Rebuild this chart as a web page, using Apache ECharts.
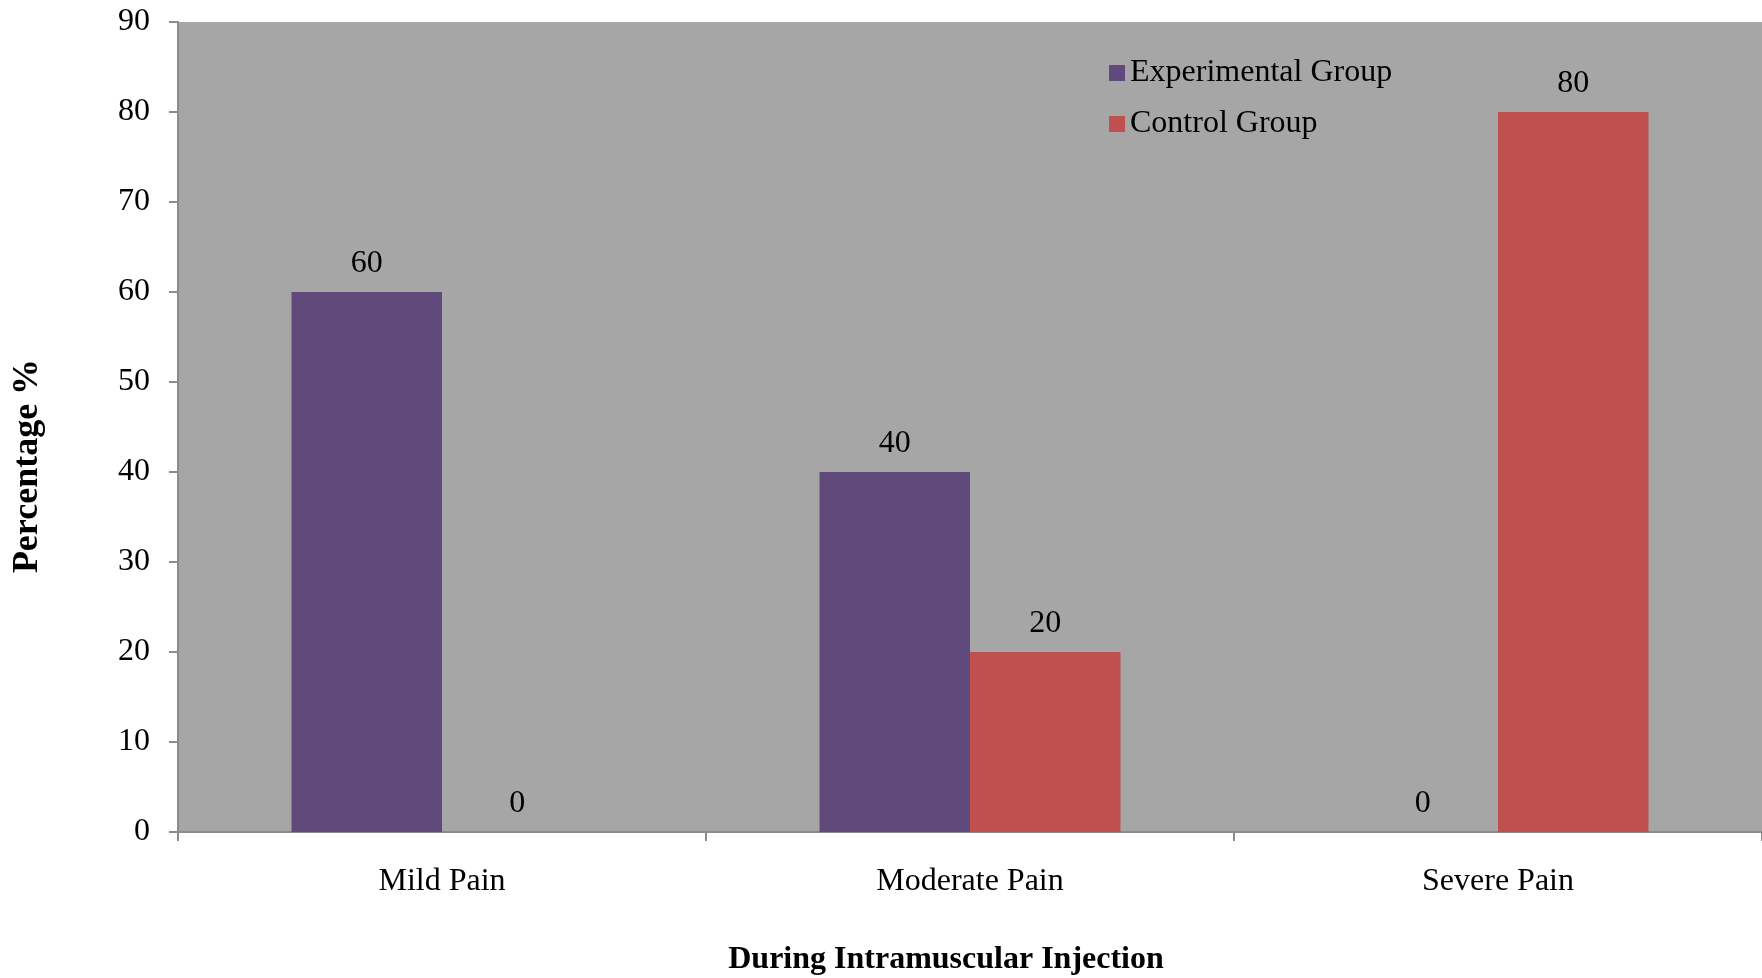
<!DOCTYPE html>
<html>
<head>
<meta charset="utf-8">
<style>
  html, body { margin: 0; padding: 0; background: #ffffff; }
  #chart { width: 1762px; height: 978px; }
</style>
<script src="https://cdn.jsdelivr.net/npm/echarts@6/dist/echarts.min.js"></script>
</head>
<body>
<div id="chart"></div>
<script>
// Pain levels during intramuscular injection (percent of each group)
const categories = ['Mild Pain', 'Moderate Pain', 'Severe Pain'];
const experimentalGroup = [60, 40, 0];
const controlGroup = [0, 20, 80];
const seriesNames = ['Experimental Group', 'Control Group'];
const xAxisTitle = 'During Intramuscular Injection';
const yAxisTitle = 'Percentage %';

const FONT = '"Liberation Serif", "Times New Roman", serif';
const SIZE = 32;
const axisGrey = '#8c8c8c';

const chart = echarts.init(document.getElementById('chart'), null, { renderer: 'canvas' });

const labelStyle = {
  show: true,
  position: 'top',
  distance: 12,
  fontFamily: FONT,
  fontSize: SIZE,
  color: '#000000'
};

chart.setOption({
  animation: false,
  backgroundColor: '#ffffff',
  grid: {
    left: 178,
    right: 0,
    top: 22,
    bottom: 146,
    outerBoundsMode: 'none',
    show: true,
    backgroundColor: '#a6a6a6',
    borderWidth: 0
  },
  legend: {
    orient: 'vertical',
    left: 1104,
    top: 52,
    itemWidth: 16,
    itemHeight: 16,
    itemGap: 19,
    icon: 'rect',
    textStyle: {
      fontFamily: FONT,
      fontSize: SIZE,
      color: '#000000',
      padding: [0, 0, 0, 0]
    },
    data: seriesNames
  },
  xAxis: {
    type: 'category',
    data: categories,
    name: xAxisTitle,
    nameLocation: 'middle',
    nameGap: 112,
    nameTextStyle: {
      fontFamily: FONT,
      fontSize: SIZE,
      fontWeight: 'bold',
      color: '#000000',
      padding: [0, 48, 0, 0]
    },
    axisLine: { show: true, lineStyle: { color: axisGrey, width: 2 } },
    axisTick: { show: true, length: 9, lineStyle: { color: axisGrey, width: 2 } },
    axisLabel: {
      margin: 34,
      fontFamily: FONT,
      fontSize: SIZE,
      color: '#000000'
    },
    splitLine: { show: false }
  },
  yAxis: {
    type: 'value',
    min: 0,
    max: 90,
    interval: 10,
    name: yAxisTitle,
    nameLocation: 'middle',
    nameGap: 132,
    nameTextStyle: {
      fontFamily: FONT,
      fontSize: 36,
      fontWeight: 'bold',
      color: '#000000',
      padding: [0, 78, 0, 0]
    },
    axisLine: { show: true, lineStyle: { color: axisGrey, width: 2 } },
    axisTick: { show: true, length: 9, lineStyle: { color: axisGrey, width: 2 } },
    axisLabel: {
      margin: 28,
      fontFamily: FONT,
      fontSize: SIZE,
      color: '#000000'
    },
    splitLine: { show: false }
  },
  series: [
    {
      name: seriesNames[0],
      type: 'bar',
      data: experimentalGroup,
      barGap: '0%',
      barCategoryGap: '43%',
      itemStyle: { color: '#604a7b' },
      label: labelStyle
    },
    {
      name: seriesNames[1],
      type: 'bar',
      data: controlGroup,
      itemStyle: { color: '#c0504d' },
      label: labelStyle
    }
  ]
});
</script>
</body>
</html>
